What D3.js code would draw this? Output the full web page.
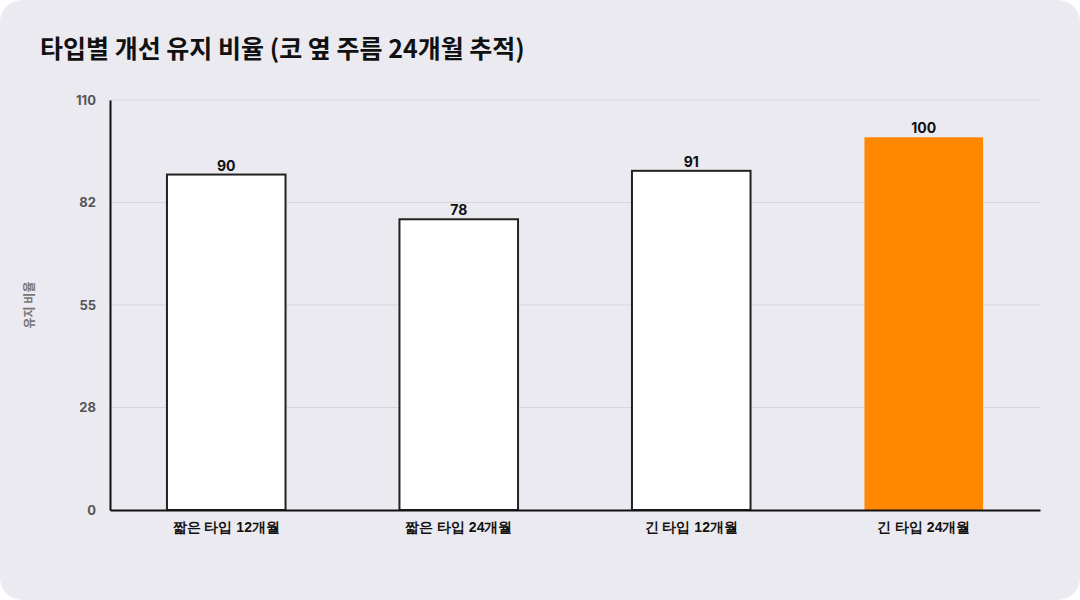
<!DOCTYPE html>
<html><head><meta charset="utf-8">
<script src="https://cdn.jsdelivr.net/npm/d3@7"></script>
<style>
html,body{margin:0;padding:0;background:#fff;}
svg{display:block;font-family:"Noto Sans CJK KR","Noto Sans",sans-serif;}
</style></head><body>
<svg id="c" width="1080" height="600"></svg>
<script>
const categories = ["짧은 타입 12개월","짧은 타입 24개월","긴 타입 12개월","긴 타입 24개월"];
const values = [90, 78, 91, 100];
const highlight = [false, false, false, true];
const tickValues = [0, 27.5, 55, 82.5, 110];
const tickLabels = ["0","28","55","82","110"];
const title = "타입별 개선 유지 비율 (코 옆 주름 24개월 추적)";
const yLabel = "유지 비율";

const svg = d3.select("#c");
svg.append("rect").attr("x",0).attr("y",0).attr("width",1080).attr("height",600).attr("rx",22).attr("fill","#ebeaf0");
const m = {l:110, r:1040, t:100, b:510};
const x = d3.scaleBand().domain(categories).range([m.l, m.r]).paddingInner(0.49).paddingOuter(0.245);
const y = d3.scaleLinear().domain([0,110]).range([m.b, m.t]);

svg.append("text").attr("x",40).attr("y",58).attr("font-size",25).attr("font-weight",700).attr("fill","#111").text(title);

const g = svg.append("g");
g.selectAll(".grid").data(tickValues.slice(1)).join("line")
  .attr("x1",m.l).attr("x2",m.r).attr("y1",d=>y(d)).attr("y2",d=>y(d))
  .attr("stroke","#d6d5dc").attr("stroke-width",1);

const yAxis = g.append("g").attr("transform",`translate(${m.l},0)`)
  .call(d3.axisLeft(y).tickValues(tickValues).tickFormat((d,i)=>tickLabels[i]).tickSize(0).tickPadding(14));
yAxis.select(".domain").attr("stroke","#111").attr("stroke-width",2);
yAxis.selectAll("text").attr("font-size",13).attr("font-weight",700).attr("fill","#555").attr("font-family","Inter, sans-serif");

g.selectAll(".bar").data(values).join("rect")
  .attr("x",(d,i)=>x(categories[i])).attr("width",x.bandwidth())
  .attr("y",d=>y(d)).attr("height",d=>y(0)-y(d))
  .attr("fill",(d,i)=>highlight[i]?"#ff8800":"#fff")
  .attr("stroke",(d,i)=>highlight[i]?"none":"#222").attr("stroke-width",2);

g.selectAll(".val").data(values).join("text")
  .attr("x",(d,i)=>x(categories[i])+x.bandwidth()/2).attr("y",d=>y(d)-4)
  .attr("text-anchor","middle").attr("font-size",14).attr("font-weight",700).attr("fill","#111")
  .attr("font-family","Inter, sans-serif").text(d=>d);

const xAxis = g.append("g").attr("transform",`translate(0,${m.b})`)
  .call(d3.axisBottom(x).tickSize(0).tickPadding(12));
xAxis.select(".domain").attr("stroke","#111").attr("stroke-width",2);
xAxis.selectAll("text").attr("font-size",14).attr("font-weight",700).attr("fill","#111");

svg.append("text").attr("transform","translate(34,305) rotate(-90)").attr("text-anchor","middle")
  .attr("font-size",12).attr("font-weight",700).attr("fill","#777").text(yLabel);
</script></body></html>
